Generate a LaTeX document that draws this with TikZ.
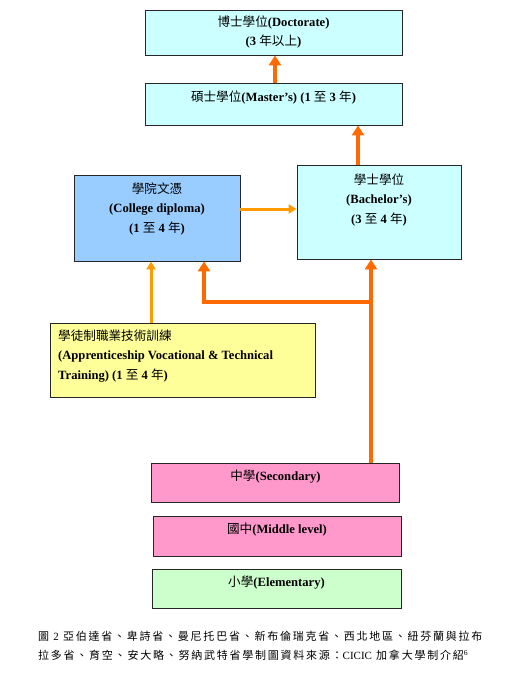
\documentclass[tikz,border=0pt]{standalone}
\usepackage{fontspec}
\setmainfont{Liberation Serif}
\newfontfamily\cjk{Noto Sans CJK TC}
\newfontfamily\cjkcap[LetterSpace=16]{Noto Sans CJK TC}
\usetikzlibrary{arrows.meta}
\definecolor{cyanbox}{HTML}{CCFFFF}
\definecolor{bluebox}{HTML}{99CCFF}
\definecolor{yellowbox}{HTML}{FFFF99}
\definecolor{pinkbox}{HTML}{FF99CC}
\definecolor{greenbox}{HTML}{CCFFCC}
\definecolor{darkorange}{HTML}{FF6A00}
\definecolor{lightorange}{HTML}{FF9A00}
\newcommand\zhtxt[1]{{\cjk\mdseries #1}}
\tikzset{
  box/.style={draw=black!85, line width=0.9pt, inner sep=0pt},
  txt/.style={font=\fontsize{12.6}{19.5}\selectfont\bfseries, align=center, inner sep=0pt},
  thickarr/.style={draw=darkorange, line width=4pt, -{Triangle[width=12pt,length=10pt]}},
  thinarr/.style={draw=lightorange, line width=3pt, -{Triangle[width=9pt,length=8pt]}},
  captext/.style={font=\fontsize{11}{18}\selectfont, anchor=west, inner sep=0pt}
}
\begin{document}
\begin{tikzpicture}[x=1pt,y=-1pt]
\useasboundingbox (0,0) rectangle (505,680);
% boxes
\node[box, fill=cyanbox, minimum width=257pt, minimum height=45pt] (doc) at (273.5,32.5) {};
\node[box, fill=cyanbox, minimum width=257pt, minimum height=42pt] (mas) at (273.5,104) {};
\node[box, fill=cyanbox, minimum width=164pt, minimum height=94pt] (bach) at (379,212) {};
\node[box, fill=bluebox, minimum width=166pt, minimum height=86pt] (col) at (157,218) {};
\node[box, fill=yellowbox, minimum width=265pt, minimum height=74pt] (appr) at (182.5,360) {};
\node[box, fill=pinkbox, minimum width=248pt, minimum height=39pt] (sec) at (275.5,482.5) {};
\node[box, fill=pinkbox, minimum width=248pt, minimum height=40pt] (mid) at (277,536) {};
\node[box, fill=greenbox, minimum width=249pt, minimum height=39pt] (elem) at (276.5,588.5) {};
% texts
\node[txt] (doct) at (273.5,32) {\zhtxt{博士學位}(Doctorate)\\(3 \zhtxt{年以上})};
\node[txt] (mast) at (273.5,98) {\zhtxt{碩士學位}(Master's) (1 \zhtxt{至} 3 \zhtxt{年})};
\node[txt] (bacht) at (379,200) {\zhtxt{學士學位}\\(Bachelor's)\\(3 \zhtxt{至} 4 \zhtxt{年})};
\node[txt] (colt) at (157,208.5) {\zhtxt{學院文憑}\\(College diploma)\\(1 \zhtxt{至} 4 \zhtxt{年})};
\node[txt, align=left, anchor=west] (apprt) at (58,356) {\zhtxt{學徒制職業技術訓練}\\(Apprenticeship Vocational \& Technical\\Training) (1 \zhtxt{至} 4 \zhtxt{年})};
\node[txt] (sect) at (275.5,477) {\zhtxt{中學}(Secondary)};
\node[txt] (midt) at (277,530) {\zhtxt{國中}(Middle level)};
\node[txt] (elemt) at (276.5,583) {\zhtxt{小學}(Elementary)};
% junction coordinates
\coordinate (xdoc) at (275,0);
\coordinate (xmas) at (358,0);
\coordinate (xsec) at (371,0);
\coordinate (xcol) at (204,0);
\coordinate (xappr) at (151,0);
\coordinate (ybr) at (0,302);
\coordinate (yhz) at (0,209);
\coordinate (jr) at (xsec |- ybr);
\coordinate (jl) at (xcol |- ybr);
% connectors
\draw[thickarr] (mas.north -| xdoc) -- (doc.south -| xdoc);
\draw[thickarr] (bach.north -| xmas) -- (mas.south -| xmas);
\draw[thinarr] (col.east |- yhz) -- (bach.west |- yhz);
\draw[thinarr] (appr.north -| xappr) -- (col.south -| xappr);
\draw[thickarr] (sec.north -| xsec) -- (bach.south -| xsec);
\draw[thickarr] (jr) -- (jl) -- (col.south -| xcol);
% caption
\node[captext] (cap1) at (38,636) {\cjkcap 圖 {\rmfamily 2} 亞伯達省、卑詩省、曼尼托巴省、新布倫瑞克省、西北地區、紐芬蘭與拉布};
\node[captext] (cap2) at (38,655) {\cjkcap 拉多省、育空、安大略、努納武特省學制圖資料來源：{\rmfamily CICIC} 加拿大學制介紹\textsuperscript{\rmfamily 6}};
\end{tikzpicture}
\end{document}
